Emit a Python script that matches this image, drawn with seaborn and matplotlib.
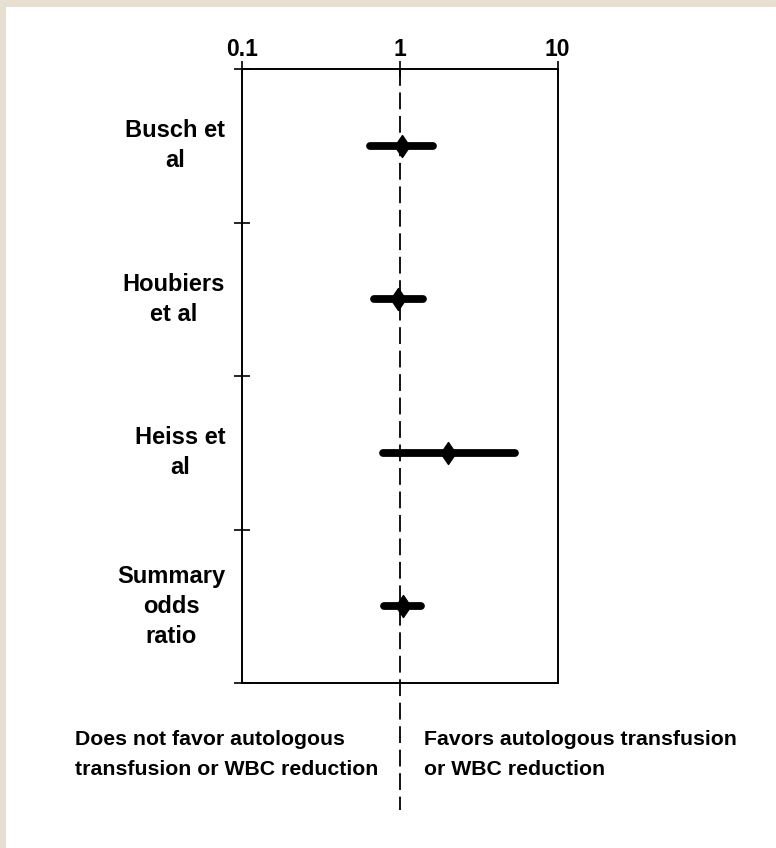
import numpy as np
import pandas as pd
import matplotlib
matplotlib.use("Agg")
import matplotlib.pyplot as plt
import matplotlib.transforms as mtransforms
from matplotlib.patches import Rectangle
import seaborn as sns

# ---- data ----
studies = ["Busch et\nal", "Houbiers\net al", "Heiss et\nal", "Summary\nodds\nratio"]
odds_ratio = [1.03, 0.97, 2.02, 1.05]
ci_low = [0.65, 0.69, 0.78, 0.80]
ci_high = [1.62, 1.40, 5.36, 1.36]
x_ticks = [0.1, 1, 10]
x_tick_labels = ["0.1", "1", "10"]
left_note = "Does not favor autologous\ntransfusion or WBC reduction"
right_note = "Favors autologous transfusion\nor WBC reduction"

sns.set_style("white")
plt.rcParams["font.family"] = ["Liberation Sans", "DejaVu Sans"]
plt.rcParams["text.color"] = "black"
plt.rcParams["xtick.color"] = "black"
plt.rcParams["ytick.color"] = "black"

df = pd.DataFrame({"study": studies, "or": odds_ratio, "lo": ci_low,
                   "hi": ci_high, "row": np.arange(len(studies))})

fig = plt.figure(figsize=(7.76, 8.48), dpi=100)
fig.patch.set_facecolor("#e7dfd1")
bg = Rectangle((6 / 776, 0), 1, (848 - 7) / 848, transform=fig.transFigure,
               facecolor="white", edgecolor="none", zorder=-10)
fig.patches.append(bg)

ax = fig.add_axes([241.7 / 776, (848 - 683) / 848, 315.8 / 776, 614 / 848])
ax.set_zorder(5)
ax.set_facecolor("white")

# reference line at OR = 1, extending below the axes
ax.plot([1, 1], [-0.5, 4.33], color="black", lw=1.3, ls=(0, (9.3, 3.7)),
        clip_on=False, zorder=1)

# confidence intervals
for _, r in df.iterrows():
    ax.plot([r["lo"], r["hi"]], [r["row"], r["row"]], color="black", lw=5.6,
            solid_capstyle="round", zorder=2)

# point estimates (diamonds)
diamond = [(0, 1), (0.68, 0), (0, -1), (-0.68, 0), (0, 1)]
sns.scatterplot(data=df, x="or", y="row", marker=diamond, s=250, color="black",
                edgecolor="black", linewidth=1.0, ax=ax, zorder=3, legend=False)

ax.set_xscale("log")
ax.set_xlim(0.1, 10)
ax.set_ylim(3.5, -0.5)
ax.xaxis.tick_top()
ax.set_xticks(x_ticks)
ax.set_xticklabels(x_tick_labels, fontsize=16.5, fontweight="bold")
ax.xaxis.set_minor_locator(matplotlib.ticker.NullLocator())
ax.tick_params(axis="x", which="major", direction="inout", length=12,
               width=1.2, pad=0, top=True, bottom=False, color="black",
               labelcolor="black")
ax.set_yticks([-0.5, 0.5, 1.5, 2.5, 3.5])
ax.set_yticklabels([])
ax.tick_params(axis="y", direction="inout", length=12, width=1.2, left=True,
               color="black")
ax.set_xlabel("")
ax.set_ylabel("")
for s in ax.spines.values():
    s.set_visible(True)
    s.set_color("black")
    s.set_linewidth(1.4)

trans = mtransforms.blended_transform_factory(ax.transAxes, ax.transData)
for _, r in df.iterrows():
    ax.text(-16.5 / 315.8, r["row"], r["study"], transform=trans, ha="right",
            va="center", multialignment="center", fontsize=17,
            fontweight="bold", linespacing=1.38, color="black", clip_on=False)

fig.text(75 / 776, (848 - 754.5) / 848, left_note, ha="left", va="center",
         fontsize=15.3, fontweight="bold", linespacing=1.78, color="black")
fig.text(424 / 776, (848 - 754.5) / 848, right_note, ha="left", va="center",
         fontsize=15.3, fontweight="bold", linespacing=1.78, color="black")

fig.savefig("out.png", dpi=100, facecolor=fig.get_facecolor())
